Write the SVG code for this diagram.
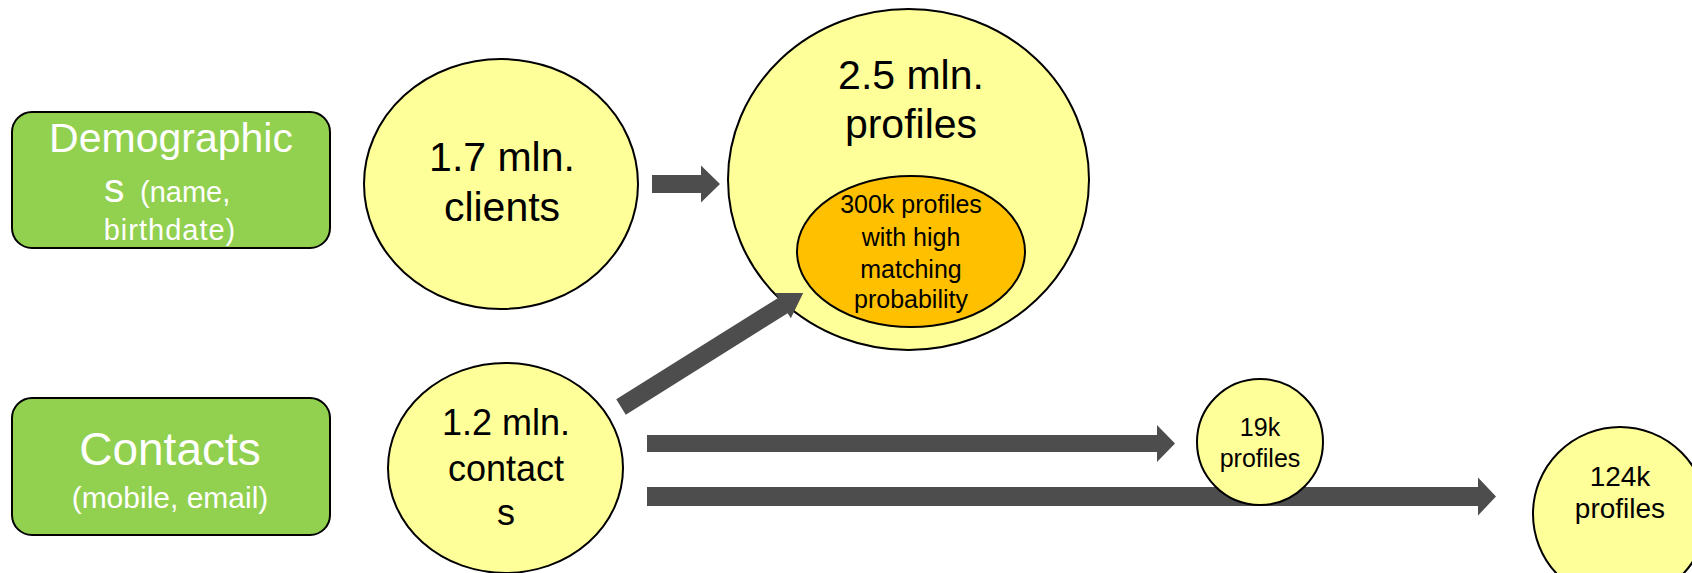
<svg xmlns="http://www.w3.org/2000/svg" width="1692" height="573" viewBox="0 0 1692 573">
<style>
.box{fill:#92D050;stroke:#000;stroke-width:2}
.yel{fill:#FFFF99;stroke:#000;stroke-width:2}
.org{fill:#FFC000;stroke:#000;stroke-width:2}
.arr{fill:#4D4D4D}
text{font-family:"Liberation Sans",Arial,sans-serif;text-anchor:middle}
.w{fill:#fff}
.k{fill:#000}
</style>
<rect width="1692" height="573" fill="#fff"/>
<g id="demographics">
<rect class="box" x="12" y="112" width="318" height="136" rx="20"/>
<text class="w" x="171" y="152" font-size="41">Demographic</text>
<text class="w" y="202" style="text-anchor:start"><tspan x="104" font-size="41">s</tspan><tspan x="140" font-size="29">(name,</tspan></text>
<text class="w" x="170" y="240" font-size="29" letter-spacing="1">birthdate)</text>
</g>
<g id="contacts">
<rect class="box" x="12" y="398" width="318" height="137" rx="20"/>
<text class="w" x="170" y="465" font-size="46">Contacts</text>
<text class="w" x="170" y="508" font-size="30">(mobile, email)</text>
</g>
<g id="clients">
<ellipse class="yel" cx="501" cy="184" rx="137" ry="125"/>
<text class="k" x="502" y="171" font-size="41">1.7 mln.</text>
<text class="k" x="502" y="221" font-size="41">clients</text>
</g>
<g id="profiles">
<ellipse class="yel" cx="908.5" cy="179.5" rx="180.5" ry="170.5"/>
<text class="k" x="911" y="89" font-size="41">2.5 mln.</text>
<text class="k" x="911" y="138" font-size="41">profiles</text>
</g>
<g id="high-matching">
<ellipse class="org" cx="911" cy="251.5" rx="114" ry="75.5"/>
<text class="k" x="911" y="213" font-size="25">300k profiles</text>
<text class="k" x="911" y="246" font-size="25">with high</text>
<text class="k" x="911" y="278" font-size="25">matching</text>
<text class="k" x="911" y="308" font-size="25">probability</text>
</g>
<g id="contacts-count">
<ellipse class="yel" cx="505.5" cy="468" rx="117.5" ry="105"/>
<text class="k" x="506" y="435" font-size="36">1.2 mln.</text>
<text class="k" x="506" y="481" font-size="36">contact</text>
<text class="k" x="506" y="525" font-size="36">s</text>
</g>
<g id="profiles-124k">
<circle class="yel" cx="1620" cy="514" r="87"/>
<text class="k" x="1620" y="486" font-size="28">124k</text>
<text class="k" x="1620" y="518" font-size="28">profiles</text>
</g>
<g id="connectors">
<polygon class="arr" points="652,175 701,175 701,165.5 720,184 701,202.5 701,193 652,193"/>
<polygon class="arr" transform="translate(621,407) rotate(-32.06)" points="0,-9 191,-9 191,-15 215,0 191,15 191,9 0,9"/>
<polygon class="arr" points="647,435 1157,435 1157,425 1175,443.5 1157,462 1157,452 647,452"/>
<polygon class="arr" points="647,487 1478,487 1478,477.5 1496,496.5 1478,515.5 1478,506 647,506"/>
</g>
<g id="profiles-19k">
<circle class="yel" cx="1260" cy="442" r="63"/>
<text class="k" x="1260" y="436" font-size="25">19k</text>
<text class="k" x="1260" y="467" font-size="25">profiles</text>
</g>
</svg>
